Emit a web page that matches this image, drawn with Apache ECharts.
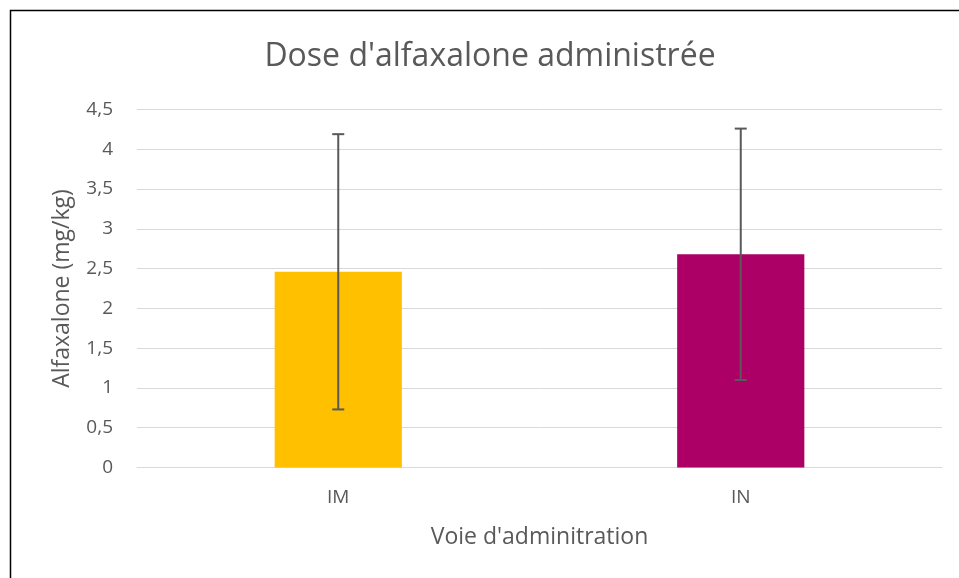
<!DOCTYPE html>
<html>
<head>
<meta charset="utf-8">
<script src="https://cdn.jsdelivr.net/npm/echarts@6/dist/echarts.min.js"></script>
<style>
html,body{margin:0;padding:0;background:#fff;}
#chart{width:959px;height:578px;}
</style>
</head>
<body>
<div id="chart"></div>
<script>
const categories = ['IM', 'IN'];
const means = [2.46, 2.68];
const errors = [1.73, 1.58];
const barColors = ['#FFC000', '#AD0066'];
const titleText = "Dose d'alfaxalone administrée";
const xAxisName = "Voie d'adminitration";
const yAxisName = 'Alfaxalone (mg/kg)';

const FONT = 'Open Sans';
const TXT = '#595959';

const chart = echarts.init(document.getElementById('chart'), null, {renderer: 'canvas'});

const errorData = categories.map((c, i) => [i, means[i] - errors[i], means[i] + errors[i]]);

chart.setOption({
  backgroundColor: '#fff',
  animation: false,
  textStyle: {fontFamily: FONT},
  title: {
    text: titleText,
    left: 490,
    textAlign: 'center',
    top: 41,
    padding: 0,
    textStyle: {fontFamily: FONT, fontSize: 32, fontWeight: 'normal', color: TXT}
  },
  graphic: [{
    type: 'polyline',
    shape: {points: [[10.5, 1000], [10.5, 10.5], [1000, 10.5]]},
    style: {stroke: '#000', lineWidth: 1.5, fill: null},
    silent: true
  }],
  grid: {left: 137, right: 17, top: 109.5, bottom: 110.5, containLabel: false},
  xAxis: {
    type: 'category',
    data: categories,
    axisLine: {show: true, lineStyle: {color: '#D9D9D9', width: 1}},
    axisTick: {show: false},
    axisLabel: {color: TXT, fontSize: 19, fontFamily: FONT, margin: 21},
    name: xAxisName,
    nameLocation: 'middle',
    nameGap: 58,
    nameTextStyle: {color: TXT, fontSize: 23, fontFamily: FONT}
  },
  yAxis: {
    type: 'value',
    min: 0,
    max: 4.5,
    interval: 0.5,
    axisLine: {show: false},
    axisTick: {show: false},
    splitLine: {lineStyle: {color: '#D9D9D9', width: 1}},
    axisLabel: {
      color: TXT, fontSize: 19, fontFamily: FONT, margin: 24,
      formatter: v => String(v).replace('.', ',')
    },
    name: yAxisName,
    nameLocation: 'middle',
    nameGap: 63,
    nameRotate: 90,
    nameTextStyle: {color: TXT, fontSize: 23, fontFamily: FONT}
  },
  series: [{
    type: 'bar',
    data: means.map((v, i) => ({value: v, itemStyle: {color: barColors[i]}})),
    barWidth: '31.6%'
  }, {
    type: 'custom',
    data: errorData,
    z: 10,
    renderItem: function (params, api) {
      const x = api.value(0);
      const lo = api.coord([x, api.value(1)]);
      const hi = api.coord([x, api.value(2)]);
      const cap = 6;
      const style = {stroke: '#595959', lineWidth: 2};
      return {
        type: 'group',
        children: [
          {type: 'line', shape: {x1: hi[0], y1: hi[1], x2: lo[0], y2: lo[1]}, style},
          {type: 'line', shape: {x1: hi[0] - cap, y1: hi[1], x2: hi[0] + cap, y2: hi[1]}, style},
          {type: 'line', shape: {x1: lo[0] - cap, y1: lo[1], x2: lo[0] + cap, y2: lo[1]}, style}
        ]
      };
    }
  }]
});
</script>
</body>
</html>
